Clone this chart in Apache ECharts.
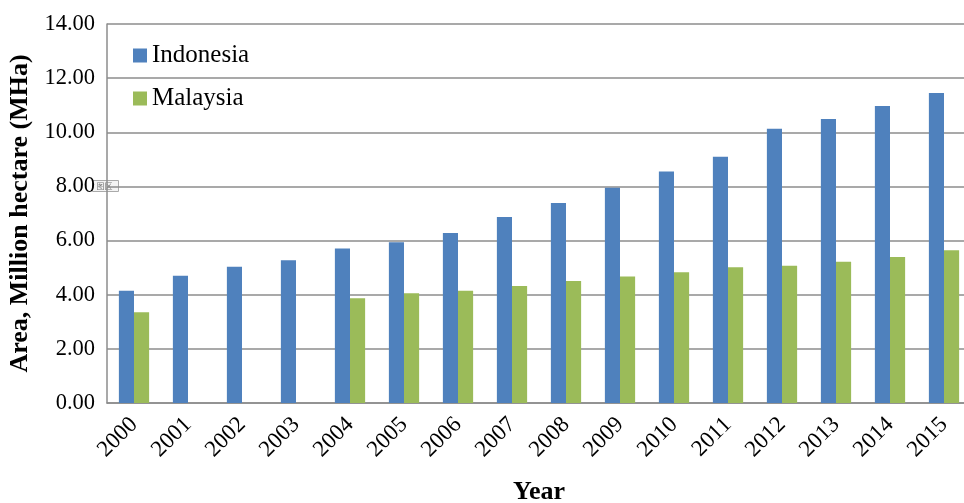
<!DOCTYPE html>
<html>
<head>
    <meta charset="utf-8">
    <title>Area</title>
    <script src="https://cdn.jsdelivr.net/npm/echarts@6/dist/echarts.min.js"></script>
    <style>
        html, body { height: 100%; margin: 0; padding: 0; background: #fff; }
    </style>
</head>
<body>
<div id="chart-box" style="width:964px; height:503px;"></div>
<script type="text/javascript">
    const years = ["2000","2001","2002","2003","2004","2005","2006","2007","2008","2009","2010","2011","2012","2013","2014","2015"];
    const indonesia = [4.15, 4.70, 5.03, 5.27, 5.71, 5.94, 6.28, 6.87, 7.39, 7.95, 8.55, 9.10, 10.13, 10.49, 10.97, 11.45];
    const malaysia = [3.35, null, null, null, 3.87, 4.05, 4.15, 4.32, 4.51, 4.67, 4.83, 5.01, 5.07, 5.22, 5.39, 5.64];

    const serif = "Liberation Serif";
    const chart = echarts.init(document.getElementById("chart-box"));
    const option = {
        animation: false,
        textStyle: { fontFamily: serif },
        grid: { left: 107, top: 24, height: 379, width: 864, outerBoundsMode: "none", containLabel: false },
        legend: {
            orient: "vertical",
            left: 128, top: 38,
            itemGap: 18,
            itemWidth: 14, itemHeight: 14,
            icon: "rect",
            textStyle: { fontFamily: serif, fontSize: 25, color: "#000" },
            data: ["Indonesia", "Malaysia"]
        },
        xAxis: {
            type: "category",
            data: years,
            name: "Year",
            nameLocation: "middle",
            nameGap: 76,
            nameTextStyle: { fontFamily: serif, fontSize: 26, fontWeight: "bold", color: "#000" },
            axisLine: { lineStyle: { color: "#8c8c8c", width: 1.5 } },
            axisTick: { show: false },
            axisLabel: { rotate: 45, fontSize: 23, color: "#000", margin: 18, interval: 0 }
        },
        yAxis: {
            type: "value",
            min: 0, max: 14, interval: 2,
            name: "Area, Million hectare (MHa)",
            nameLocation: "middle",
            nameGap: 74,
            nameTextStyle: { fontFamily: serif, fontSize: 26, fontWeight: "bold", color: "#000" },
            axisLine: { show: true, lineStyle: { color: "#8c8c8c", width: 1.5 } },
            axisTick: { show: false },
            axisLabel: { fontSize: 22.5, color: "#000", margin: 12, formatter: v => v.toFixed(2) },
            splitLine: { lineStyle: { color: "#8c8c8c", width: 1.5 } }
        },
        graphic: [{
            type: "group", left: 92, top: 180,
            children: [
                { type: "rect", shape: { x: 0, y: 0, width: 26, height: 11 }, style: { fill: "#f4f4f4", stroke: "#aaa", lineWidth: 1 } },
                { type: "text", x: 4, y: 1, style: { text: "图区", font: "8px 'Noto Sans CJK SC'", fill: "#777" } }
            ]
        }],
        series: [
            { name: "Indonesia", type: "bar", data: indonesia, barGap: "0%", barCategoryGap: "44%", itemStyle: { color: "#4F81BD" } },
            { name: "Malaysia", type: "bar", data: malaysia, itemStyle: { color: "#9BBB59" } }
        ]
    };
    chart.setOption(option);
</script>
</body>
</html>
